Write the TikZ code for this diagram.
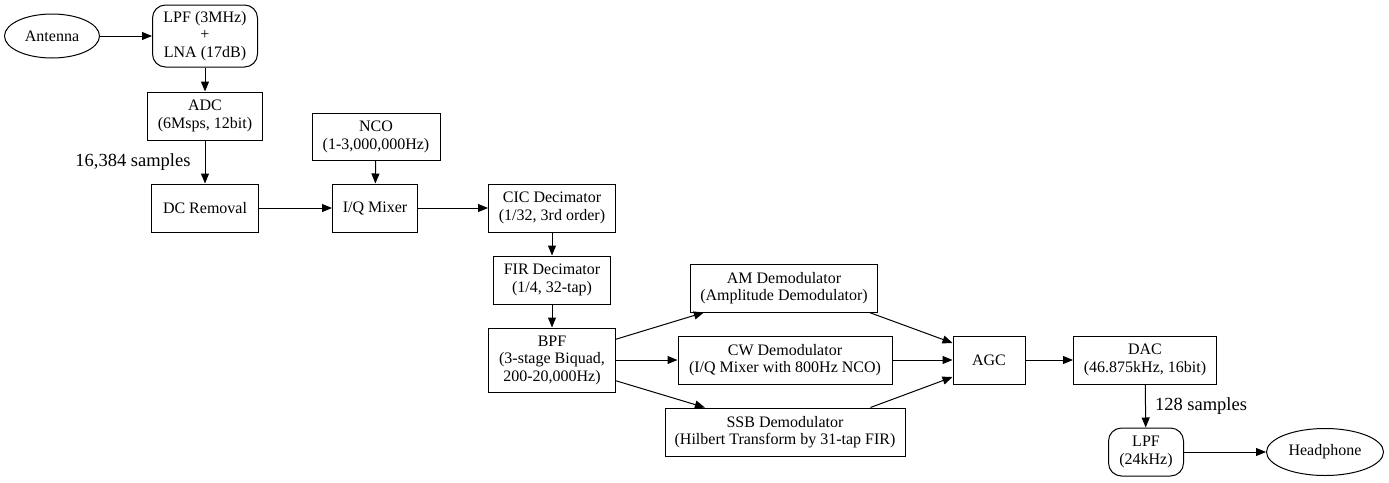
\documentclass[tikz,border=0pt]{standalone}
\usepackage{fontspec}
\setmainfont{Liberation Serif}
\usetikzlibrary{shapes.geometric,arrows.meta}

\tikzset{
  blk/.style={draw,line width=1pt,align=center,inner sep=0pt,
    font=\fontsize{16}{17.5}\selectfont,minimum height=48pt},
  rblk/.style={blk,rounded corners=13pt},
  ell/.style={blk,ellipse},
  arr/.style={line width=1pt,-{Triangle[length=10pt,width=8pt]}},
  lbl/.style={inner sep=0pt,font=\fontsize{18.5}{20}\selectfont}
}

\begin{document}
\begin{tikzpicture}[x=1pt,y=-1pt]
  \useasboundingbox (0,0) rectangle (1389,482);
  % front end
  \node[ell,minimum width=95pt,minimum height=44pt] (ant) at (52,36) {Antenna};
  \node[rblk,minimum width=105pt,minimum height=62pt] (lpf) at (205,36) {LPF (3MHz)\\+\\LNA (17dB)};
  \node[blk,minimum width=115pt] (adc) at (205,116) {ADC\\(6Msps, 12bit)};
  \node[blk,minimum width=128pt,minimum height=47pt] (nco) at (376,137) {NCO\\(1-3,000,000Hz)};
  \node[blk,minimum width=107pt] (dcr) at (205,208) {DC Removal};
  \node[blk,minimum width=85pt] (mix) at (375,208) {I/Q Mixer};
  % decimation
  \node[blk,minimum width=127pt] (cic) at (552,208) {CIC Decimator\\(1/32, 3rd order)};
  \node[blk,minimum width=117pt] (fir) at (552,280) {FIR Decimator\\(1/4, 32-tap)};
  \node[blk,minimum width=127pt,minimum height=64pt] (bpf) at (552,360) {BPF\\(3-stage Biquad,\\200-20,000Hz)};
  % demodulators
  \node[blk,minimum width=187pt] (am) at (784,288) {AM Demodulator\\(Amplitude Demodulator)};
  \node[blk,minimum width=214pt] (cw) at (785,360) {CW Demodulator\\(I/Q Mixer with 800Hz NCO)};
  \node[blk,minimum width=240pt] (ssb) at (785,432) {SSB Demodulator\\(Hilbert Transform by 31-tap FIR)};
  % back end
  \node[blk,minimum width=72pt] (agc) at (989,360) {AGC};
  \node[blk,minimum width=143pt] (dac) at (1145,360) {DAC\\(46.875kHz, 16bit)};
  \node[rblk,minimum width=75pt] (lpfo) at (1146,452) {LPF\\(24kHz)};
  \node[ell,minimum width=117pt,minimum height=47pt] (hp) at (1325,452) {Headphone};

  \draw[arr] (ant) -- (lpf);
  \draw[arr] (lpf) -- (adc);
  \draw[arr] (adc) -- node[lbl,left=14pt] {16,384 samples} (dcr);
  \draw[arr] (nco) -- (mix);
  \draw[arr] (dcr) -- (mix);
  \draw[arr] (mix) -- (cic);
  \draw[arr] (cic) -- (fir);
  \draw[arr] (fir) -- (bpf);
  \draw[arr] (bpf.18) -- (am.197);
  \draw[arr] (bpf) -- (cw);
  \draw[arr] (bpf.-18) -- (ssb.163);
  \draw[arr] (am.-16) -- (agc.155);
  \draw[arr] (cw) -- (agc);
  \draw[arr] (ssb.16) -- (agc.205);
  \draw[arr] (agc) -- (dac);
  \draw[arr] (dac) -- node[lbl,right=9pt] {128 samples} (lpfo);
  \draw[arr] (lpfo) -- (hp);
\end{tikzpicture}
\end{document}
